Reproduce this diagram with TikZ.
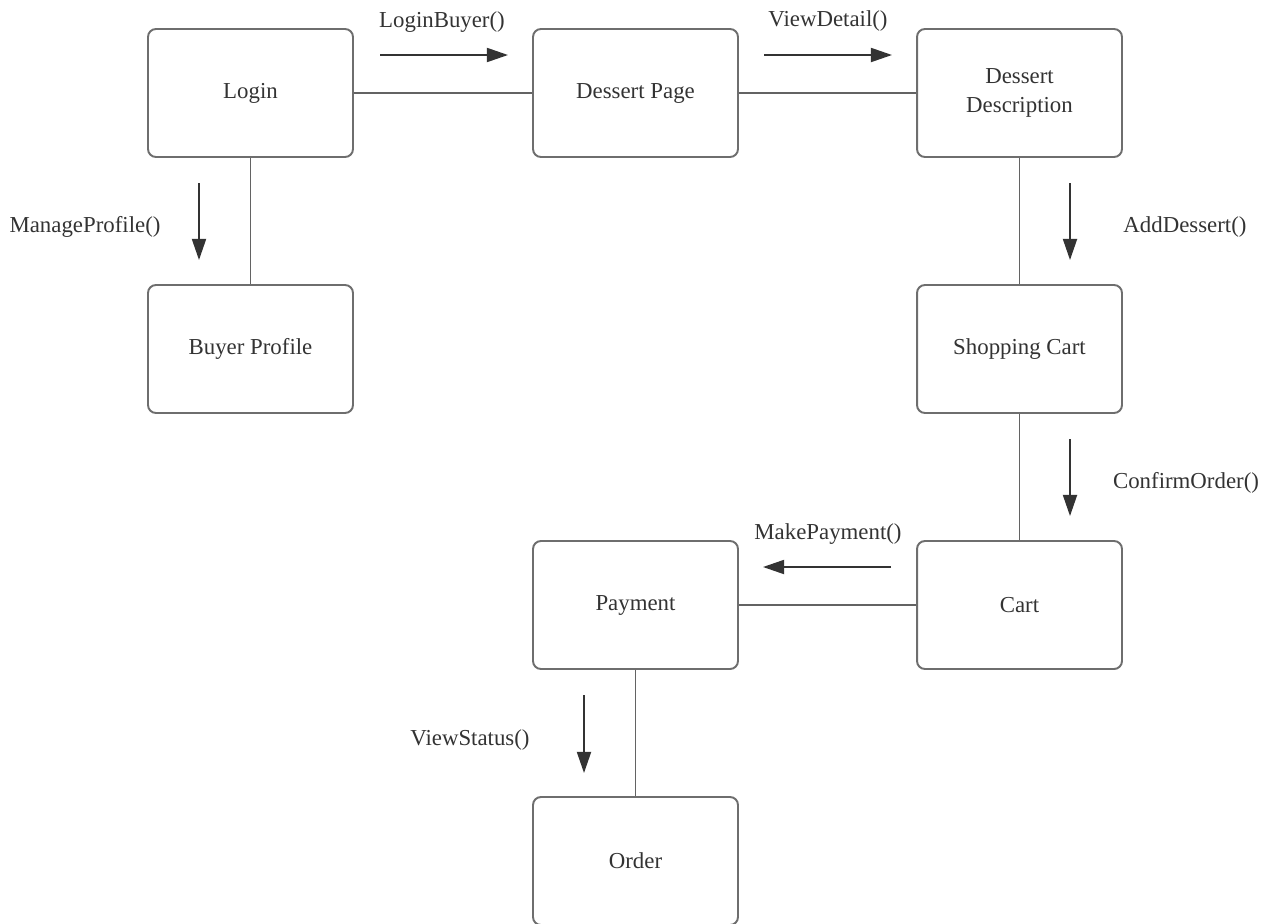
\documentclass[tikz,border=0pt]{standalone}
\usepackage{fontspec}
\setmainfont{Liberation Serif}
\usetikzlibrary{arrows.meta}
\definecolor{boxline}{HTML}{6E6E6E}
\definecolor{txt}{HTML}{333333}
\definecolor{arr}{HTML}{333333}
\tikzset{
  cls/.style={draw=boxline, line width=1.1pt, rounded corners=4.5pt, minimum width=4.1cm, minimum height=2.56cm, inner sep=0pt, align=center, font=\fontsize{13}{16}\selectfont, text=txt},
  link/.style={draw=boxline!90!black, line width=1.1pt},
  msg/.style={draw=arr, line width=1pt, -{Triangle[length=12pt,width=8pt]}},
  lbl/.style={font=\fontsize{13}{16}\selectfont, text=txt, inner sep=0pt}
}
\begin{document}
\begin{tikzpicture}[x=0.02cm,y=-0.02cm]
\useasboundingbox (0,0) rectangle (1270,923);
\node[cls] (login) at (250.5,93) {Login};
\node[cls] (dpage) at (635.5,93) {Dessert Page};
\node[cls] (ddesc) at (1019.5,93) {Dessert\\Description};
\node[cls] (buyer) at (250.5,349) {Buyer Profile};
\node[cls] (shop) at (1019.5,349) {Shopping Cart};
\node[cls] (pay) at (635.5,605) {Payment};
\node[cls] (cart) at (1019.5,605) {Cart};
\node[cls] (order) at (635.5,861) {Order};
\draw[link] (login) -- (dpage);
\draw[link] (dpage) -- (ddesc);
\draw[link] (login) -- (buyer);
\draw[link] (ddesc) -- (shop);
\draw[link] (shop) -- (cart);
\draw[link] (cart) -- (pay);
\draw[link] (pay) -- (order);
% messages
\coordinate (a1s) at (380,55); \coordinate (a1e) at (508,55);
\draw[msg] (a1s) -- (a1e);
\node[lbl] (l1) at (442,22) {LoginBuyer()};
\coordinate (a2s) at (764,55); \coordinate (a2e) at (892,55);
\draw[msg] (a2s) -- (a2e);
\node[lbl] (l2) at (828,21) {ViewDetail()};
\coordinate (a3s) at (199,183); \coordinate (a3e) at (199,260);
\draw[msg] (a3s) -- (a3e);
\node[lbl] (l3) at (85,227) {ManageProfile()};
\coordinate (a4s) at (1070,183); \coordinate (a4e) at (1070,260);
\draw[msg] (a4s) -- (a4e);
\node[lbl] (l4) at (1185,227) {AddDessert()};
\coordinate (a5s) at (1070,439); \coordinate (a5e) at (1070,516);
\draw[msg] (a5s) -- (a5e);
\node[lbl] (l5) at (1186,483) {ConfirmOrder()};
\coordinate (a6s) at (891,567); \coordinate (a6e) at (763,567);
\draw[msg] (a6s) -- (a6e);
\node[lbl] (l6) at (828,534) {MakePayment()};
\coordinate (a7s) at (584,695); \coordinate (a7e) at (584,773);
\draw[msg] (a7s) -- (a7e);
\node[lbl] (l7) at (470,740) {ViewStatus()};
\end{tikzpicture}
\end{document}
